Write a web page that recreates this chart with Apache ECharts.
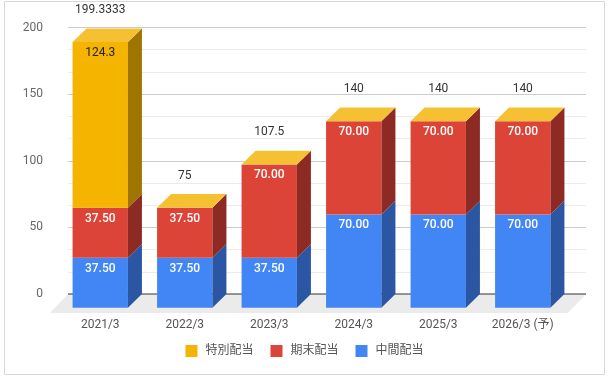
<!DOCTYPE html>
<html><head><meta charset="utf-8">
<script src="https://cdn.jsdelivr.net/npm/echarts@6/dist/echarts.min.js"></script>
<style>html,body{margin:0;padding:0;background:#fff}#c{width:609px;height:378px}</style>
</head><body><div id="c"></div>
<script>
// ---- data ----
const categories = ['2021/3', '2022/3', '2023/3', '2024/3', '2025/3', '2026/3 (予)'];
const interim = [37.5, 37.5, 37.5, 70, 70, 70];     // 中間配当
const yearEnd = [37.5, 37.5, 70, 70, 70, 70];       // 期末配当
const special = [124.3333, 0, 0, 0, 0, 0];          // 特別配当
const yMin = 0, yMax = 200, yInterval = 50;

// ---- styling ----
const FONT = 'Roboto, "Noto Sans CJK JP", sans-serif';
const DX = 14, DY = -13.7;
const vals = [interim, yearEnd, special];
const bases = [
  interim.map(() => 0),
  interim.slice(),
  interim.map((v, i) => v + yearEnd[i])
];

function makeSeries(name, idx, color, side, top, labelColor, labelWeight, digits, isTop) {
  return {
    type: 'custom', name: name, xAxisIndex: 1, yAxisIndex: 1, z: 3 + idx, clip: false,
    itemStyle: { color: color },
    encode: { x: 0, y: [1, 2] },
    data: categories.map((c, i) => [i, bases[idx][i], bases[idx][i] + vals[idx][i], vals[idx][i]]),
    renderItem: function (params, api) {
      const i = api.value(0), b = api.value(1), t = api.value(2), v = api.value(3);
      const p0 = api.coord([i, b]), p1 = api.coord([i, t]);
      const w = api.size([1, 0])[0] * 0.655;
      const cx = p0[0], L = cx - w / 2, R = cx + w / 2, yb = p0[1], yt = p1[1];
      const ch = [];
      if (yb - yt > 0.01) {
        ch.push({ type: 'rect', shape: { x: L, y: yt, width: w, height: yb - yt }, style: { fill: color } });
        ch.push({ type: 'polygon', shape: { points: [[R, yt], [R + DX, yt + DY], [R + DX, yb + DY], [R, yb]] }, style: { fill: side } });
      }
      if (isTop) {
        ch.push({ type: 'polygon', shape: { points: [[L, yt], [L + DX, yt + DY], [R + DX, yt + DY], [R, yt]] }, style: { fill: top } });
        ch.push({ type: 'text', x: cx, y: yt - 32, style: { text: String(parseFloat(t.toFixed(4))), fill: '#333', font: '12px ' + FONT, align: 'center', verticalAlign: 'middle' } });
      }
      if (v > 0) {
        ch.push({ type: 'text', x: cx, y: yt + 11, style: { text: v.toFixed(digits), fill: labelColor, font: labelWeight + ' 12px ' + FONT, align: 'center', verticalAlign: 'middle' } });
      }
      return { type: 'group', children: ch };
    }
  };
}

const chart = echarts.init(document.getElementById('c'), null, { renderer: 'canvas' });
chart.setOption({
  animation: false,
  backgroundColor: '#fff',
  textStyle: { fontFamily: FONT },
  graphic: [{ type: 'rect', shape: { x: 4.5, y: 1.5, width: 600, height: 373 }, style: { fill: 'none', stroke: '#d9d9d9', lineWidth: 1 }, z: -10 }],
  legend: {
    data: ['特別配当', '期末配当', '中間配当'],
    top: 340, left: 'center', icon: 'rect', itemWidth: 12, itemHeight: 12, itemGap: 17,
    textStyle: { color: '#555', fontSize: 12, fontFamily: FONT, padding: [0, 0, 0, 3] }
  },
  grid: [
    { left: 68, right: 23, top: 27.5, height: 266.5 },
    { left: 58, right: 44, top: 41.2, height: 266.5 }
  ],
  xAxis: [
    { gridIndex: 0, type: 'value', min: 0, max: 1, show: false },
    { gridIndex: 1, type: 'category', data: categories, axisLine: { show: false }, axisTick: { show: false },
      axisLabel: { color: '#555', fontSize: 12, margin: 11, fontFamily: FONT, interval: 0 } }
  ],
  yAxis: [
    { gridIndex: 0, type: 'value', min: yMin, max: yMax, interval: yInterval,
      axisLine: { show: false }, axisTick: { show: false },
      axisLabel: { color: '#666', fontSize: 12, margin: 25, fontFamily: FONT },
      splitLine: { lineStyle: { color: '#cccccc' } },
      minorTick: { show: false, splitNumber: 3 },
      minorSplitLine: { show: true, lineStyle: { color: '#ebebeb' } } },
    { gridIndex: 1, type: 'value', min: yMin, max: yMax, show: false }
  ],
  series: [
    {
      type: 'custom', name: 'floor', xAxisIndex: 0, yAxisIndex: 0, z: 1, silent: true, clip: false,
      data: [[0, 0]],
      renderItem: function (params, api) {
        const cs = params.coordSys;
        const y0 = cs.y + cs.height, x0 = cs.x, x1 = cs.x + cs.width;
        return { type: 'group', children: [
          { type: 'polygon', shape: { points: [[x0, y0], [x1, y0], [x1 - 18, y0 + 19], [x0 - 18, y0 + 19]] }, style: { fill: '#ebebeb' } },
          { type: 'line', shape: { x1: x0, y1: y0, x2: x1, y2: y0 }, style: { stroke: '#333', lineWidth: 1 } }
        ] };
      }
    },
    makeSeries('中間配当', 0, '#4285f4', '#2b56a3', '#6a9ff6', '#fff', 500, 2, false),
    makeSeries('期末配当', 1, '#db4437', '#8e2a24', '#e26b60', '#fff', 500, 2, false),
    makeSeries('特別配当', 2, '#f4b400', '#9e7500', '#f5c133', '#222', 'normal', 1, true)
  ]
});
</script>
</body></html>
